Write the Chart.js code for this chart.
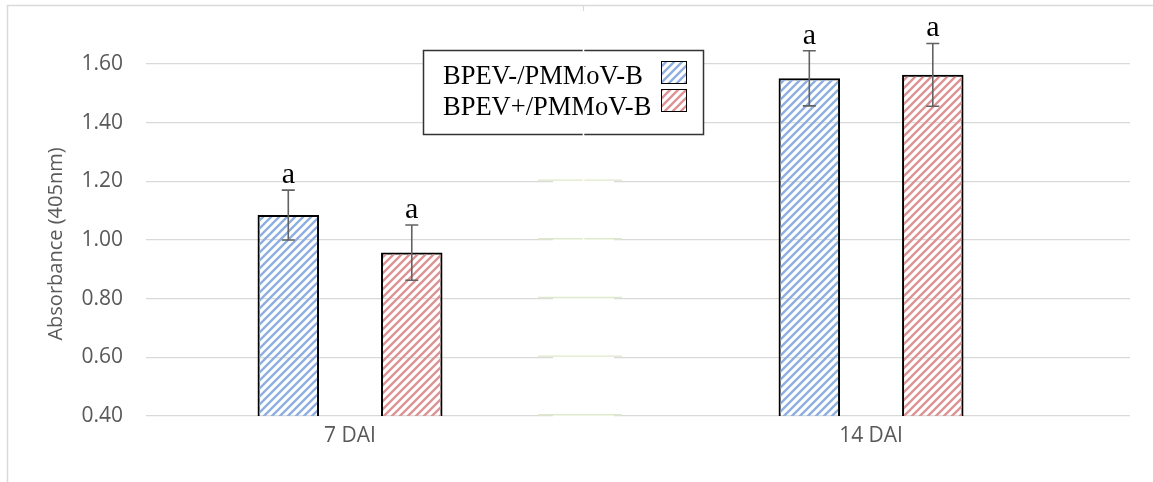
<!DOCTYPE html>
<html>
<head>
<meta charset="utf-8">
<script src="https://cdn.jsdelivr.net/npm/chart.js@4.4.1/dist/chart.umd.min.js"></script>
<style>
  html, body { margin: 0; padding: 0; background: #ffffff; }
  canvas { display: block; }
</style>
</head>
<body>
<canvas id="absChart" width="1153" height="482"></canvas>
<script>
// Sampling days and treatments
const categories = ['7 DAI', '14 DAI'];
const seriesNames = ['BPEV-/PMMoV-B', 'BPEV+/PMMoV-B'];
const yTitle = 'Absorbance (405nm)';

// Mean absorbance at 405 nm and standard error
const bpevNeg = [1.085, 1.551];
const bpevNegErr = [0.085, 0.094];
const bpevPos = [0.957, 1.563];
const bpevPosErr = [0.094, 0.107];

// Significance letters
const bpevNegLetters = ['a', 'a'];
const bpevPosLetters = ['a', 'a'];

// Value axis ticks
const yTicks = [0.4, 0.6, 0.8, 1.0, 1.2, 1.4, 1.6];
const yMin = 0.4;
const yMax = 1.8;

const AXIS_FONT = '"Open Sans", "Liberation Sans", sans-serif';
const SERIF_FONT = '"Liberation Serif", "Times New Roman", serif';

// Diagonal hatch fill
function hatch(color) {
  const s = 8;
  const c = document.createElement('canvas');
  c.width = s; c.height = s;
  const g = c.getContext('2d');
  g.strokeStyle = color;
  g.lineWidth = 2.3;
  g.beginPath();
  g.moveTo(0, s); g.lineTo(s, 0);
  g.moveTo(-2, 2); g.lineTo(2, -2);
  g.moveTo(s - 2, s + 2); g.lineTo(s + 2, s - 2);
  g.stroke();
  return g.createPattern(c, 'repeat');
}
const blueHatch = hatch('#8caee0');
const redHatch = hatch('#de9292');

const toPoints = vals => vals.map((v, i) => ({ x: i + 1, y: v }));

// Outer frame of the chart object and the value-axis title
const framePlugin = {
  id: 'frame',
  beforeDraw(chart) {
    const ctx = chart.ctx;
    ctx.save();
    ctx.strokeStyle = '#d9d9d9';
    ctx.lineWidth = 1.5;
    ctx.beginPath();
    ctx.moveTo(7.5, chart.height);
    ctx.lineTo(7.5, 5.5);
    ctx.lineTo(chart.width, 5.5);
    ctx.stroke();
    ctx.translate(56, 244);
    ctx.rotate(-Math.PI / 2);
    ctx.fillStyle = '#595959';
    ctx.font = '20px ' + AXIS_FONT;
    ctx.textAlign = 'center';
    ctx.textBaseline = 'middle';
    ctx.fillText(yTitle, 0, 0);
    ctx.restore();
  }
};

// Faint tinted segments on the lower gridlines around the middle
const gridTintPlugin = {
  id: 'gridTint',
  beforeDatasetsDraw(chart) {
    const ctx = chart.ctx;
    const y = chart.scales.y;
    ctx.save();
    yTicks.filter(v => v <= 1.2 + 1e-9).forEach(v => {
      const py = y.getPixelForValue(v);
      ctx.fillStyle = '#ffffff';
      ctx.fillRect(553, py - 1.5, 61, 3);
      ctx.strokeStyle = '#dfe9cb';
      ctx.lineWidth = 1.4;
      ctx.beginPath();
      ctx.moveTo(538, py - 1.2);
      ctx.lineTo(622, py - 1.2);
      ctx.stroke();
    });
    ctx.restore();
  }
};

// Error bars and significance letters
const errorBarPlugin = {
  id: 'errorBars',
  afterDatasetsDraw(chart) {
    const ctx = chart.ctx;
    const yScale = chart.scales.y;
    ctx.save();
    chart.data.datasets.forEach((ds, d) => {
      const meta = chart.getDatasetMeta(d);
      meta.data.forEach((bar, i) => {
        const v = ds.data[i].y;
        const e = ds.errors[i];
        const top = yScale.getPixelForValue(v + e);
        const bot = yScale.getPixelForValue(v - e);
        ctx.strokeStyle = '#626262';
        ctx.lineWidth = 1.6;
        ctx.beginPath();
        ctx.moveTo(bar.x, top); ctx.lineTo(bar.x, bot);
        ctx.moveTo(bar.x - 6.5, top); ctx.lineTo(bar.x + 6.5, top);
        ctx.moveTo(bar.x - 6.5, bot); ctx.lineTo(bar.x + 6.5, bot);
        ctx.stroke();
        ctx.fillStyle = '#000000';
        ctx.font = '30px ' + SERIF_FONT;
        ctx.textAlign = 'center';
        ctx.textBaseline = 'alphabetic';
        ctx.fillText(ds.letters[i], bar.x, top - 7);
      });
    });
    ctx.restore();
  }
};

// Boxed legend with swatches on the right
const boxLegendPlugin = {
  id: 'boxLegend',
  afterDraw(chart) {
    const ctx = chart.ctx;
    const bx = 423.5, by = 50.5, bw = 280, bh = 84;
    ctx.save();
    ctx.fillStyle = '#ffffff';
    ctx.fillRect(bx, by, bw, bh);
    ctx.strokeStyle = '#333333';
    ctx.lineWidth = 1.5;
    ctx.strokeRect(bx, by, bw, bh);
    ctx.font = '26.5px ' + SERIF_FONT;
    ctx.fillStyle = '#000000';
    ctx.textAlign = 'left';
    ctx.textBaseline = 'alphabetic';
    chart.data.datasets.forEach((ds, d) => {
      ctx.fillText(ds.label, 443, 84 + d * 31);
      const sy = 61.5 + d * 28;
      ctx.fillStyle = ds.backgroundColor;
      ctx.fillRect(661.5, sy, 25, 22);
      ctx.strokeStyle = '#000000';
      ctx.lineWidth = 1;
      ctx.strokeRect(661.5, sy, 25, 22);
      ctx.fillStyle = '#000000';
    });
    // thin light seam crossing the upper part of the plot
    ctx.strokeStyle = '#ffffff';
    ctx.lineWidth = 1.6;
    ctx.beginPath();
    ctx.moveTo(583.5, 12);
    ctx.lineTo(583.5, 250);
    ctx.stroke();
    ctx.strokeStyle = '#d9d9d9';
    ctx.lineWidth = 1.2;
    ctx.beginPath();
    ctx.moveTo(583.5, 5);
    ctx.lineTo(583.5, 11);
    ctx.stroke();
    ctx.restore();
  }
};

new Chart(document.getElementById('absChart'), {
  type: 'bar',
  data: {
    datasets: [
      {
        label: seriesNames[0],
        data: toPoints(bpevNeg),
        errors: bpevNegErr,
        letters: bpevNegLetters,
        backgroundColor: blueHatch,
        borderColor: '#000000',
        borderWidth: 2,
        borderSkipped: false
      },
      {
        label: seriesNames[1],
        data: toPoints(bpevPos),
        errors: bpevPosErr,
        letters: bpevPosLetters,
        backgroundColor: redHatch,
        borderColor: '#000000',
        borderWidth: 2,
        borderSkipped: false
      }
    ]
  },
  options: {
    responsive: false,
    animation: false,
    devicePixelRatio: 1,
    categoryPercentage: 0.474,
    barPercentage: 0.498,
    layout: { padding: { left: 0, right: 23, top: 5.3, bottom: 0 } },
    plugins: {
      legend: { display: false },
      tooltip: { enabled: false }
    },
    scales: {
      x: {
        type: 'linear',
        offset: false,
        min: 0.6084,
        max: 2.497,
        grid: { display: false, drawTicks: false, offset: false },
        border: { display: false },
        afterBuildTicks(scale) {
          scale.ticks = categories.map((c, i) => ({ value: i + 1 }));
        },
        afterFit(scale) {
          scale.height = 66;
          scale.paddingLeft = 0;
          scale.paddingRight = 0;
        },
        ticks: {
          padding: 7,
          color: '#595959',
          font: { family: AXIS_FONT, size: 21 },
          maxRotation: 0,
          autoSkip: false,
          callback: v => categories[Math.round(v) - 1] || ''
        }
      },
      y: {
        min: yMin,
        max: yMax,
        grid: { color: '#d9d9d9', lineWidth: 1.3, drawTicks: false },
        border: { display: false },
        afterBuildTicks(scale) {
          scale.ticks = yTicks.map(v => ({ value: v }));
        },
        afterFit(scale) {
          scale.width = 146;
          scale.paddingTop = 0;
          scale.paddingBottom = 0;
        },
        ticks: {
          padding: 23,
          color: '#595959',
          font: { family: AXIS_FONT, size: 21 },
          callback: v => v.toFixed(2)
        }
      }
    }
  },
  plugins: [framePlugin, gridTintPlugin, errorBarPlugin, boxLegendPlugin]
});
</script>
</body>
</html>
